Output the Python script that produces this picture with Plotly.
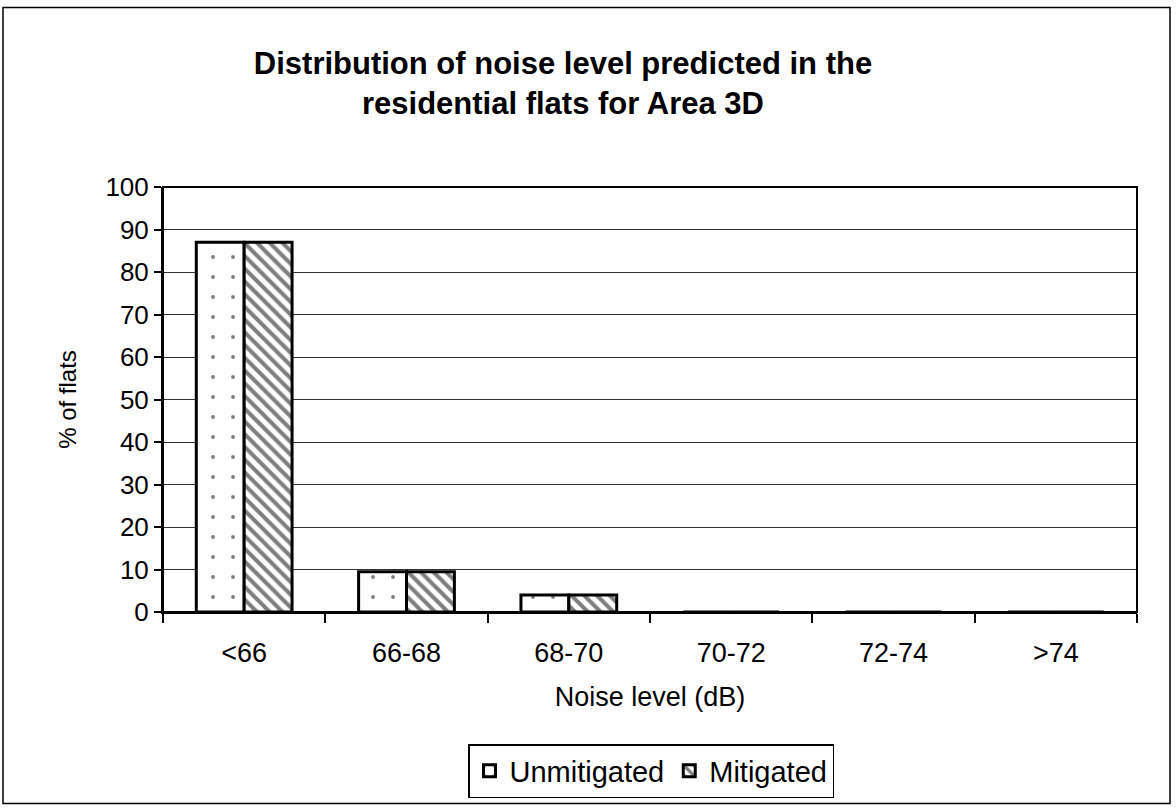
import plotly.graph_objects as go

categories = ["<66", "66-68", "68-70", "70-72", "72-74", ">74"]
unmitigated = [87, 9.5, 4, 0, 0, 0]
mitigated = [87, 9.5, 4, 0, 0, 0]
y_ticks = list(range(0, 101, 10))

W, H = 1176, 809
L, R, T, B = 163, 1137, 187, 613
pw, ph = R - L, B - T

def px(x):
    return (x - L) / pw

def py(y):
    return (B - y) / ph

fig = go.Figure()
fig.add_trace(go.Bar(
    x=categories, y=unmitigated, name="Unmitigated",
    marker=dict(color="white", line=dict(color="black", width=3),
                pattern=dict(shape=".", fgcolor="black", bgcolor="white", size=20, solidity=0.03)),
))
fig.add_trace(go.Bar(
    x=categories, y=mitigated, name="Mitigated",
    marker=dict(color="white", line=dict(color="black", width=3),
                pattern=dict(shape="\\", fgcolor="black", bgcolor="white", size=9, solidity=0.45)),
))

font_family = "Liberation Sans, Arial, sans-serif"
fig.update_layout(
    width=W, height=H,
    margin=dict(l=L, r=W - R, t=T, b=H - B),
    paper_bgcolor="white", plot_bgcolor="white",
    barmode="group", bargap=0.41, bargroupgap=0,
    font=dict(family=font_family, color="black", size=27),
    title=dict(text="<b>Distribution of noise level predicted in the<br>residential flats for Area 3D</b>",
               x=px(563), xref="paper", xanchor="center",
               y=1 - 74 / H, yanchor="middle", font=dict(size=31)),
    showlegend=True,
    legend=dict(orientation="h", x=px(651), xanchor="center", y=py(771), yanchor="middle",
                bordercolor="black", borderwidth=1.5, font=dict(size=29),
                itemwidth=30, traceorder="normal", bgcolor="white"),
    xaxis=dict(title=dict(text="Noise level (dB)", standoff=20, font=dict(size=27)),
               showline=True, linecolor="black", linewidth=2, mirror=False,
               ticks="outside", tickson="boundaries", ticklen=9, tickcolor="black",
               tickwidth=1.5, showgrid=False, tickfont=dict(size=27), ticklabelstandoff=16),
    yaxis=dict(title=dict(text="% of flats", standoff=22, font=dict(size=24)),
               range=[0, 100], tickvals=y_ticks, showline=True, linecolor="black", linewidth=2,
               ticks="outside", ticklen=7, tickcolor="black", tickwidth=1.5,
               showgrid=True, gridcolor="#333", gridwidth=1, tickfont=dict(size=26),
               zeroline=False),
    shapes=[
        dict(type="rect", xref="paper", yref="paper", x0=0, x1=1, y0=0, y1=1,
             line=dict(color="black", width=2), layer="above"),
        dict(type="rect", xref="paper", yref="paper", x0=px(3), x1=px(1170), y0=py(805), y1=py(7),
             line=dict(color="black", width=1.5)),
    ],
)

fig.write_html("out.html", config={"displayModeBar": False},
               post_script="document.body.style.margin='0';")
